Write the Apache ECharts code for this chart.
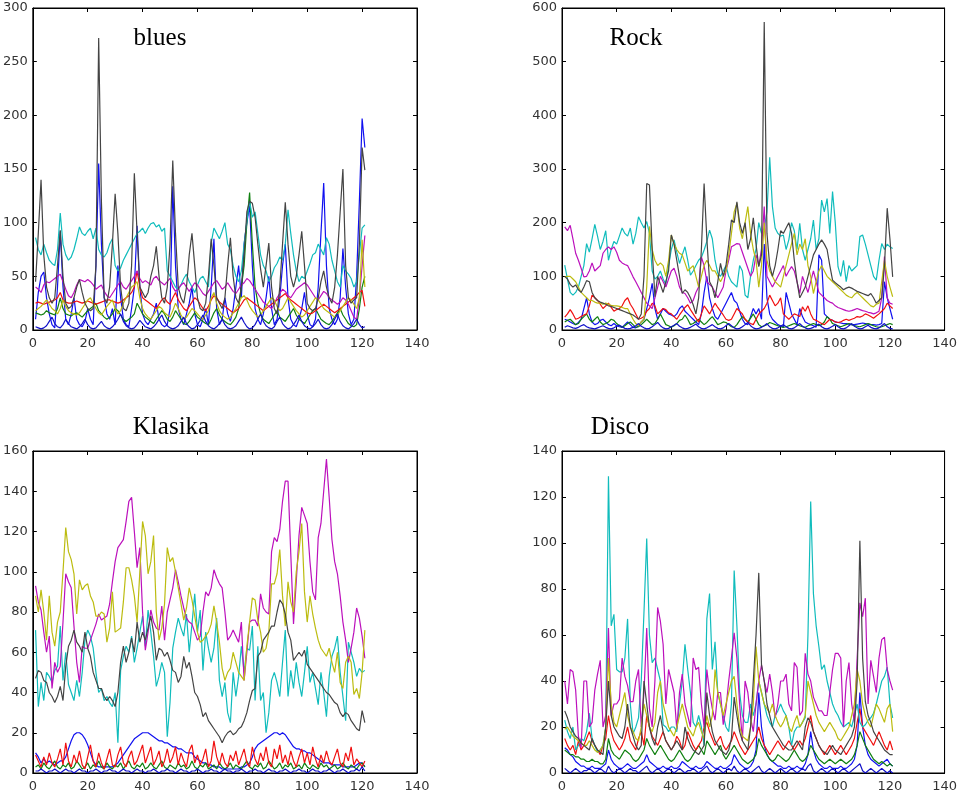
<!DOCTYPE html>
<html><head><meta charset="utf-8">
<script src="https://cdn.jsdelivr.net/npm/echarts@6/dist/echarts.min.js"></script>
<style>html,body{margin:0;padding:0;background:#fff}#c{width:960px;height:795px}</style>
</head><body><div id="c"></div>
<script>
// ---- tick labels ----
const xTicks = [0,20,40,60,80,100,120,140];
const titles = ["blues","Rock","Klasika","Disco"];
const seriesNames = ["s1","s2","s3","s4","s5","s6","s7","s8"];

// ---- BLUES ----
const blues_b = [10,35,50,54,30,15,5,2,40,92, 40,10,5,15,30,10,5,3,8,20, 10,5,60,155,80,30,15,10,20,5, 60,30,10,5,3,20,40,97,40,15, 8,5,10,15,25,10,5,3,5,20, 134,60,20,10,5,15,25,40,15,5, 3,10,20,5,40,85,20,5,10,30, 15,8,20,40,60,30,80,100,116,60, 20,10,5,15,30,50,20,5,10,30, 60,80,30,10,5,3,10,20,35,15, 5,3,10,40,90,137,60,20,10,5, 10,30,76,40,15,5,10,50,120,197, 170];
const blues_g = [16,15,14,15,18,16,15,14,20,30, 20,15,14,13,15,16,14,12,15,18, 20,22,25,18,15,12,10,12,15,20, 18,14,10,8,10,12,15,25,20,15, 12,10,8,6,10,14,18,15,10,8, 12,18,14,10,6,5,8,12,16,12, 10,8,6,5,10,16,20,14,10,8, 6,5,8,12,20,40,60,100,128,80, 40,25,15,10,8,6,10,14,18,12, 10,8,12,16,20,14,10,8,6,10, 14,18,20,15,10,8,6,5,8,12, 16,20,14,10,6,4,3,5,20,40, 50];
const blues_r = [25,26,25,24,25,26,27,28,30,35, 28,26,25,25,26,27,26,25,26,27, 26,25,24,25,26,27,28,28,27,26, 25,26,28,30,32,35,40,55,40,30, 28,26,24,22,20,24,28,30,26,24, 30,35,28,24,20,18,22,26,30,28, 24,20,18,22,28,32,30,26,24,22, 20,18,16,18,20,24,28,30,28,26, 24,22,20,18,20,22,24,26,28,30, 32,34,30,28,26,24,22,20,18,16, 15,16,18,20,22,24,22,20,18,16, 18,20,22,24,26,28,30,32,35,37, 22];
const blues_c = [86,75,70,80,72,65,62,60,75,109, 80,70,65,68,75,85,96,90,88,92, 95,85,95,75,70,68,72,80,85,60, 55,58,65,70,75,80,85,90,92,95, 90,95,99,100,96,98,92,95,55,50, 45,40,38,42,48,52,45,40,35,42, 48,50,45,40,81,95,90,85,92,100, 80,75,60,50,45,55,80,102,120,105, 110,90,70,60,55,45,50,58,62,68, 65,80,112,90,70,55,45,50,48,55, 62,70,72,80,75,70,86,80,65,55, 45,40,60,55,52,48,40,45,70,95, 98];
const blues_m = [40,38,35,42,45,44,46,48,50,52, 45,38,32,30,35,42,47,46,45,47, 45,42,38,40,42,36,32,30,34,38, 42,45,40,38,42,46,50,55,48,44, 46,44,42,48,50,46,44,42,45,48, 40,36,38,42,44,40,36,40,44,42, 38,34,32,36,40,44,46,42,38,40, 44,40,36,34,38,42,44,48,46,42, 38,34,30,26,24,22,20,24,30,34, 38,36,32,30,34,38,40,42,44,42, 38,34,30,28,32,36,34,30,28,26, 24,26,30,28,24,18,12,10,30,60, 88];
const blues_y = [18,20,22,25,28,24,20,18,15,20, 28,22,18,16,15,14,16,20,24,28, 30,25,20,16,14,18,22,25,28,20, 15,18,25,30,35,40,42,45,30,20, 15,12,10,14,18,22,20,16,14,12, 18,25,20,14,10,12,16,20,18,15, 12,10,14,18,30,35,25,18,14,12, 10,12,16,20,25,30,32,28,22,18, 15,12,14,18,22,26,30,28,22,18, 20,25,30,26,22,18,15,12,14,18, 22,26,30,28,24,20,18,16,14,12, 14,18,22,26,30,28,24,20,30,84, 40];
const blues_k = [45,90,140,70,40,30,25,30,60,93, 50,25,20,22,30,40,47,35,25,20, 18,20,60,272,120,30,25,40,80,127, 90,40,20,18,25,60,146,90,40,35, 30,35,50,60,78,50,30,25,40,80, 158,90,40,30,25,40,70,90,60,30, 20,18,25,50,85,60,30,25,20,30, 60,86,50,30,25,40,70,110,120,118, 105,80,57,40,60,81,40,20,15,40, 80,119,80,50,40,50,70,92,60,25, 20,18,20,30,45,55,40,30,25,40, 70,110,150,60,30,25,28,30,80,170, 149];
const blues_b2 = [3,2,1,2,4,8,12,6,3,2, 5,10,6,3,2,1,3,6,10,5, 2,1,2,5,8,4,2,1,3,6, 10,15,8,4,2,1,2,5,9,6, 3,2,1,3,6,10,14,8,4,2, 1,2,4,8,12,6,3,1,2,5, 9,14,8,4,2,1,3,6,10,5, 2,1,2,4,8,12,7,3,1,2, 5,10,15,8,4,2,1,3,8,12, 6,3,1,2,5,9,14,8,4,2, 1,3,6,10,5,2,1,2,5,10, 15,8,4,2,1,3,6,10,5,2, 3];

// ---- ROCK ----
const rock_b = [20,18,15,12,10,14,20,40,60,30, 15,10,12,18,20,15,10,8,12,8, 6,5,10,15,10,5,4,8,15,20, 40,60,87,40,20,30,40,35,30,28, 25,30,40,45,35,30,25,20,15,10, 30,70,100,60,40,25,20,30,40,50, 60,70,55,50,35,20,12,10,25,40, 30,40,20,160,60,30,20,15,10,8, 5,70,50,30,20,10,40,25,15,12, 10,8,5,140,130,30,25,20,18,15, 14,13,12,12,11,10,10,11,12,13, 12,11,10,10,9,10,12,90,60,40, 20];
const rock_g = [15,18,20,15,10,12,20,25,30,20, 15,20,25,15,10,12,15,20,18,12, 8,5,8,12,15,10,5,6,10,15, 20,15,10,12,20,30,20,10,8,5, 8,12,18,20,28,20,10,12,16,20, 15,10,14,20,25,18,10,12,15,14, 10,6,5,10,18,25,20,15,22,30, 20,10,6,8,10,14,12,10,8,6, 5,6,8,10,12,10,8,6,5,8, 10,12,10,8,10,15,25,20,12,10, 8,6,8,10,12,10,8,7,6,8, 10,12,10,8,6,5,6,8,10,12, 10];
const rock_r = [24,30,38,30,20,22,25,28,30,45, 65,60,55,48,40,45,50,42,35,38, 40,45,55,60,48,40,30,20,22,25, 35,40,50,45,30,35,40,38,32,30, 25,20,28,35,42,47,38,30,22,15, 30,45,38,30,40,50,42,35,28,20, 18,20,30,40,35,30,20,15,12,10, 20,30,35,40,50,65,55,45,50,60, 30,25,20,25,30,28,25,43,35,45, 30,20,18,15,12,10,15,20,18,15, 14,15,18,20,18,20,22,25,24,26, 30,28,25,22,26,30,35,40,50,45, 40];
const rock_c = [121,95,70,65,70,80,100,120,161,145, 170,197,175,150,165,185,130,150,165,160, 175,190,180,175,190,160,180,211,200,190, 202,180,110,95,100,110,95,85,120,150, 168,145,124,140,155,130,102,110,120,130, 135,149,165,186,170,130,106,100,110,120, 100,90,85,80,120,110,65,60,100,130, 150,200,180,190,220,322,230,190,180,175, 177,150,168,200,185,150,199,150,130,150, 170,205,150,170,242,220,245,180,258,200, 118,100,130,90,120,110,115,120,174,177, 160,140,120,100,93,130,161,150,160,155, 152];
const rock_m = [192,185,195,170,143,130,115,99,100,110, 125,110,115,120,143,150,155,150,155,145, 130,125,122,120,110,99,90,80,70,60, 50,45,40,60,80,100,90,80,95,110, 115,100,80,70,68,60,50,55,70,80, 136,120,90,85,80,70,60,70,80,110, 130,155,158,161,160,145,130,115,100,110, 140,120,150,230,100,90,80,90,100,110, 120,100,110,118,110,90,68,100,85,70, 90,110,90,70,65,60,55,52,50,45, 42,40,38,36,35,36,38,40,38,36, 35,33,32,30,32,35,60,137,60,50, 48];
const rock_y = [99,100,100,95,90,80,70,65,60,55, 55,52,50,50,48,50,48,46,45,45, 44,42,40,40,30,20,12,8,15,20, 80,193,150,130,120,125,120,100,130,177, 160,150,143,140,125,110,115,120,100,80, 100,120,130,120,110,110,100,90,100,110, 140,180,220,236,190,170,200,230,180,150, 130,80,120,200,130,110,100,90,85,80, 100,120,140,161,180,140,160,150,170,120, 100,68,90,110,120,110,100,95,90,85, 80,75,70,65,62,60,66,70,65,60, 55,50,45,43,48,50,90,130,100,80, 62];
const rock_k = [100,95,85,80,84,75,70,80,92,90, 70,60,55,52,50,48,45,44,42,40, 38,36,34,32,30,28,24,20,30,100, 273,270,150,62,100,85,70,90,110,177, 160,130,100,68,75,70,60,47,30,60, 150,273,170,90,80,60,90,124,100,120, 160,205,200,239,200,180,200,150,170,209, 160,118,140,574,180,120,100,120,150,185, 180,190,200,180,130,90,60,70,80,100, 120,140,150,160,168,160,150,120,93,88, 84,80,75,78,80,78,75,72,70,68, 66,64,68,60,50,55,60,120,227,170, 99];
const rock_b2 = [5,8,6,4,3,5,8,10,6,4, 3,2,4,6,8,5,3,2,4,7, 9,6,3,2,3,5,8,12,7,4, 2,3,6,10,14,8,4,2,3,6, 9,12,7,4,2,3,5,8,11,6, 3,2,4,7,10,6,3,2,4,8, 12,8,4,2,3,6,10,14,8,4, 2,3,5,8,12,6,3,2,4,7, 10,6,3,2,4,8,12,7,4,2, 3,5,8,11,6,3,2,4,7,10, 6,3,2,4,8,12,7,4,2,3, 6,9,5,3,2,4,8,12,6,3, 2];

// ---- KLASIKA ----
const kl_b = [10,8,5,7,5,6,5,4,5,6, 6,8,12,16,19,20,20,19,17,14, 10,6,4,3,3,3,3,3,3,4, 5,7,9,11,13,15,17,18,19,20, 20,20,19,18,17,16,16,15,15,14, 13,13,12,12,11,10,10,10,8,7, 6,5,5,4,4,3,3,3,2,2, 2,2,2,2,2,3,3,4,5,8, 12,14,15,16,17,18,19,20,20,19, 20,19,17,15,13,12,12,11,11,10, 10,9,8,7,6,5,5,5,4,4, 4,4,3,3,3,3,3,4,5,5, 3];
const kl_g = [3,4,2,5,3,2,4,6,3,2, 4,3,5,2,3,6,4,2,3,5, 2,4,3,6,3,2,5,3,2,4, 3,5,2,4,6,3,2,4,3,5, 2,3,5,3,2,4,6,3,2,4, 3,2,5,3,4,2,3,6,3,2, 4,3,5,2,3,4,2,5,3,2, 3,5,2,4,3,2,4,6,3,2, 4,3,5,2,3,6,4,2,3,5, 2,4,3,5,2,3,4,2,5,3, 2,4,3,2,5,3,4,2,3,4, 2,3,5,3,2,4,3,2,4,5, 3];
const kl_r = [9,6,3,8,4,10,5,3,7,12, 4,15,6,3,9,5,11,4,2,8, 14,6,3,10,5,2,7,12,4,3, 9,13,5,3,8,11,4,6,10,14, 5,9,13,4,7,11,3,6,12,5, 8,13,4,10,6,3,11,14,5,9, 4,7,12,3,6,16,8,4,10,5, 3,9,6,11,4,8,12,5,3,13, 7,4,10,6,13,5,3,12,7,14, 5,9,4,11,6,3,8,12,5,10, 4,13,7,3,9,5,11,6,4,8, 12,5,3,10,6,13,4,7,5,3, 6];
const kl_c = [71,33,45,36,50,48,45,51,53,73, 46,60,44,40,36,46,38,50,66,71, 68,62,50,40,42,36,38,35,33,40, 15,51,58,63,60,68,55,62,70,78, 63,81,70,58,43,48,55,50,18,35, 62,70,77,72,68,79,60,74,89,70, 81,51,70,62,55,62,77,46,38,45, 30,25,50,38,48,63,50,62,61,73, 36,63,36,40,20,30,46,50,45,38, 55,71,38,51,42,55,45,38,50,63, 45,50,42,34,50,40,28,48,58,62, 68,50,38,26,65,60,55,48,52,50, 51];
const kl_m = [93,85,81,70,60,68,42,55,50,53, 75,99,95,92,73,55,45,63,62,62, 66,70,74,79,76,77,78,84,95,105, 112,114,116,125,135,137,120,102,112,80, 61,70,81,75,72,71,83,66,80,86, 92,101,95,88,82,77,75,74,70,66, 68,80,90,88,92,101,97,94,92,80, 66,68,71,68,65,75,46,60,75,76, 76,73,89,82,80,79,110,117,115,121, 135,145,145,109,74,95,118,132,128,124, 105,90,86,117,124,140,156,137,116,105, 99,88,75,66,55,62,70,82,77,68, 57];
const kl_y = [88,80,91,80,66,88,70,63,75,80, 100,122,110,106,99,79,96,91,93,94, 88,85,78,78,80,79,65,72,90,70, 71,72,85,102,102,96,88,75,100,125, 118,99,105,118,80,66,72,84,112,105, 107,100,92,84,76,82,92,86,78,70, 65,66,68,70,74,83,75,65,52,46, 50,52,60,55,50,48,46,63,75,87, 86,76,70,60,62,70,94,94,99,111, 88,73,95,85,80,100,110,124,90,75, 88,79,72,66,62,60,58,62,55,50, 60,45,42,55,58,55,39,42,37,50, 71];
const kl_k = [47,51,50,46,45,40,38,35,38,43, 36,53,63,66,71,65,63,60,70,62, 58,50,46,42,42,38,36,38,36,33, 40,55,63,55,60,67,60,75,65,70, 66,72,78,70,56,62,61,58,60,56, 51,50,45,48,58,52,55,48,40,38, 34,28,30,26,24,22,20,18,15,18, 20,21,19,20,22,23,26,30,36,41, 42,58,60,66,68,70,73,73,80,86, 84,79,70,66,56,58,60,58,61,54, 52,50,48,46,44,42,40,39,37,35, 34,30,28,30,29,26,24,22,21,31, 25];
const kl_b2 = [1,1,2,1,0,1,1,2,1,0, 1,2,1,1,0,1,2,1,1,0, 1,1,2,1,0,1,1,2,1,1, 0,1,2,1,1,0,1,2,1,1, 0,1,1,2,1,0,1,1,2,1, 1,0,1,2,1,1,0,1,1,2, 1,0,1,1,2,1,1,0,1,2, 1,1,0,1,1,2,1,0,1,1, 2,1,1,0,1,2,1,1,0,1, 1,2,1,0,1,1,2,1,1,0, 1,2,1,1,0,1,1,2,1,0, 1,1,2,1,0,1,1,2,1,3, 1];

// ---- DISCO ----
const di_b = [11,10,8,7,5,4,3,3,2,2, 3,2,2,2,3,4,10,6,4,3, 2,2,3,4,3,2,2,3,4,5, 8,5,4,3,2,2,3,2,2,3, 2,2,3,5,4,3,2,2,3,2, 2,3,5,4,3,2,2,3,2,2, 3,4,8,6,4,3,2,2,3,5, 10,35,20,12,8,6,5,4,3,3, 2,2,3,2,2,3,2,2,4,8, 18,10,6,4,3,2,2,3,2,2, 2,3,2,2,3,4,6,12,35,20, 12,8,6,5,4,3,4,5,6,4, 3];
const di_g = [10,9,8,8,7,7,6,6,5,5, 6,5,5,4,4,6,15,10,8,7, 6,8,10,9,8,6,5,6,8,10, 15,12,10,8,10,12,10,8,6,5, 6,8,10,8,6,5,6,8,10,12, 10,8,14,12,10,8,10,12,8,6, 8,10,12,10,8,6,5,4,5,6, 8,15,12,10,8,6,5,6,8,7, 6,5,6,8,10,8,6,5,6,8, 12,10,8,6,5,4,5,6,5,4, 5,6,5,4,5,6,8,12,18,15, 12,10,8,6,5,4,5,4,3,4, 3];
const di_r = [15,12,10,12,8,14,10,12,15,18, 14,12,10,8,12,15,25,18,14,12, 10,12,15,20,14,12,10,15,18,12, 25,20,16,14,12,15,18,14,12,10, 12,16,14,10,12,18,15,12,10,12, 14,20,22,18,15,12,14,16,12,10, 12,14,18,15,12,10,8,10,12,14, 16,20,15,12,10,8,10,12,14,12, 10,12,14,12,10,12,14,12,15,20, 25,18,15,12,10,8,10,12,10,8, 10,12,10,8,10,12,15,22,28,20, 18,16,14,12,15,18,15,12,10,14, 10];
const di_c = [23,18,15,20,10,12,15,14,18,26, 15,12,9,10,12,20,129,64,69,45, 44,44,50,67,30,17,20,24,40,70, 102,60,48,50,45,40,21,20,18,20, 20,18,30,40,56,45,35,22,20,25, 20,12,67,78,45,57,35,30,25,20, 18,30,88,64,35,25,22,22,30,25, 30,40,35,30,25,22,20,25,27,30, 27,25,20,12,18,20,20,22,24,60, 118,78,64,55,45,47,40,35,30,27, 25,22,20,21,22,20,25,30,22,20, 21,23,24,26,30,35,40,42,46,30, 24];
const di_m = [40,30,45,44,36,16,11,40,40,20, 22,36,43,49,20,25,63,25,30,30, 32,50,42,38,31,31,40,45,20,35, 63,28,20,40,72,66,56,30,45,40, 35,19,35,43,30,25,20,50,45,46, 30,20,45,35,28,23,35,35,21,28, 40,50,61,50,30,14,40,35,24,18, 30,40,47,40,35,43,35,24,30,40, 40,43,30,27,48,46,25,27,52,43, 40,33,30,27,27,25,25,35,45,52, 52,50,20,40,48,30,22,50,74,68, 76,30,49,42,35,50,58,59,45,40, 36];
const di_y = [19,20,18,16,15,14,13,12,12,14, 12,10,9,10,12,20,50,30,22,20, 25,30,35,25,20,18,15,14,20,30, 25,20,18,22,35,40,30,25,20,18, 16,20,25,30,25,20,18,16,20,22, 18,15,25,20,25,45,35,30,25,30, 35,40,42,30,20,16,15,14,20,30, 55,40,35,30,28,26,30,25,22,20, 22,25,20,18,22,25,20,22,25,40, 35,30,25,22,20,18,20,22,20,18, 15,14,16,18,20,25,30,45,40,30, 25,22,20,25,30,28,25,22,28,30, 18];
const di_k = [27,24,20,18,16,15,13,12,11,10, 15,12,10,9,8,20,40,25,20,18, 16,15,20,30,20,16,12,10,12,40, 30,20,15,12,20,25,18,14,12,10, 12,14,12,10,20,15,12,10,9,8, 10,12,35,25,18,14,12,10,9,8, 10,15,33,25,18,14,12,10,20,40, 60,87,47,40,30,25,20,18,16,14, 12,11,10,10,12,14,12,10,20,24, 22,18,15,12,10,9,8,10,12,10, 9,8,10,12,14,16,20,40,101,50, 31,25,22,18,16,14,12,10,9,8, 8];
const di_b2 = [2,1,0,1,2,1,0,1,1,2, 1,0,1,2,1,0,3,1,0,1, 2,1,0,1,2,1,1,0,1,2, 3,1,0,1,2,1,0,1,2,1, 0,1,2,1,0,1,1,2,1,0, 1,2,3,1,0,1,2,1,0,1, 2,1,3,1,0,1,2,1,0,1, 2,3,1,0,1,2,1,0,1,2, 1,0,1,2,1,0,1,2,1,3, 4,1,0,1,2,1,0,1,2,1, 0,1,2,1,0,1,2,3,4,1, 0,1,2,1,0,1,2,1,0,1, 0];

const palette = ['#1010f0','#108010','#f01010','#10bcbc','#bc10bc','#bcbc10','#444444','#1010c8'];

const panels = [
  {data:[blues_b,blues_g,blues_r,blues_c,blues_m,blues_y,blues_k,blues_b2], ymax:300, yint:50, left:32, top:8},
  {data:[rock_b,rock_g,rock_r,rock_c,rock_m,rock_y,rock_k,rock_b2], ymax:600, yint:100, left:562, top:8},
  {data:[kl_b,kl_g,kl_r,kl_c,kl_m,kl_y,kl_k,kl_b2], ymax:160, yint:20, left:32, top:451},
  {data:[di_b,di_g,di_r,di_c,di_m,di_y,di_k,di_b2], ymax:140, yint:20, left:562, top:451}
];
const W = 385, H = 322;
const labelStyle = {color:'#333', fontSize:13, fontFamily:'DejaVu Sans'};

const grid=[], xAxis=[], yAxis=[], series=[];
panels.forEach((p,pi)=>{
  grid.push({left:p.left, top:p.top, width:W, height:H, show:true, borderColor:'#000', borderWidth:1, containLabel:false});
  const tickIn = {show:true, inside:true, length:4, lineStyle:{color:'#000'}};
  const line = {show:true, onZero:false, lineStyle:{color:'#000'}};
  xAxis.push({gridIndex:pi, type:'value', min:0, max:140, interval:20, axisLine:line, axisTick:tickIn, splitLine:{show:false}, axisLabel:Object.assign({margin:7}, labelStyle)});
  xAxis.push({gridIndex:pi, type:'value', position:'top', min:0, max:140, interval:20, axisLine:line, axisTick:tickIn, splitLine:{show:false}, axisLabel:{show:false}});
  yAxis.push({gridIndex:pi, type:'value', min:0, max:p.ymax, interval:p.yint, axisLine:line, axisTick:tickIn, splitLine:{show:false}, axisLabel:Object.assign({margin:5}, labelStyle)});
  yAxis.push({gridIndex:pi, type:'value', position:'right', min:0, max:p.ymax, interval:p.yint, axisLine:line, axisTick:tickIn, splitLine:{show:false}, axisLabel:{show:false}});
  p.data.forEach((arr,si)=>{
    series.push({type:'line', name:seriesNames[si], xAxisIndex:pi*2, yAxisIndex:pi*2, data:arr.map((v,i)=>[i+1,v]), showSymbol:false, symbol:'none', lineStyle:{width:1.2, color:palette[si]}, itemStyle:{color:palette[si]}, z:2+si, silent:true, clip:true});
  });
});

const titlePos = [[160,38],[636,38],[171,427],[620,427]];
const graphic = titles.map((t,i)=>({type:'text', x:titlePos[i][0], y:titlePos[i][1], style:{text:t, font:'25px "Liberation Serif"', fill:'#000', textAlign:'center', textVerticalAlign:'middle'}}));

const chart = echarts.init(document.getElementById('c'), null, {renderer:'canvas'});
chart.setOption({animation:false, backgroundColor:'#fff', grid, xAxis, yAxis, series, graphic});
</script></body></html>
